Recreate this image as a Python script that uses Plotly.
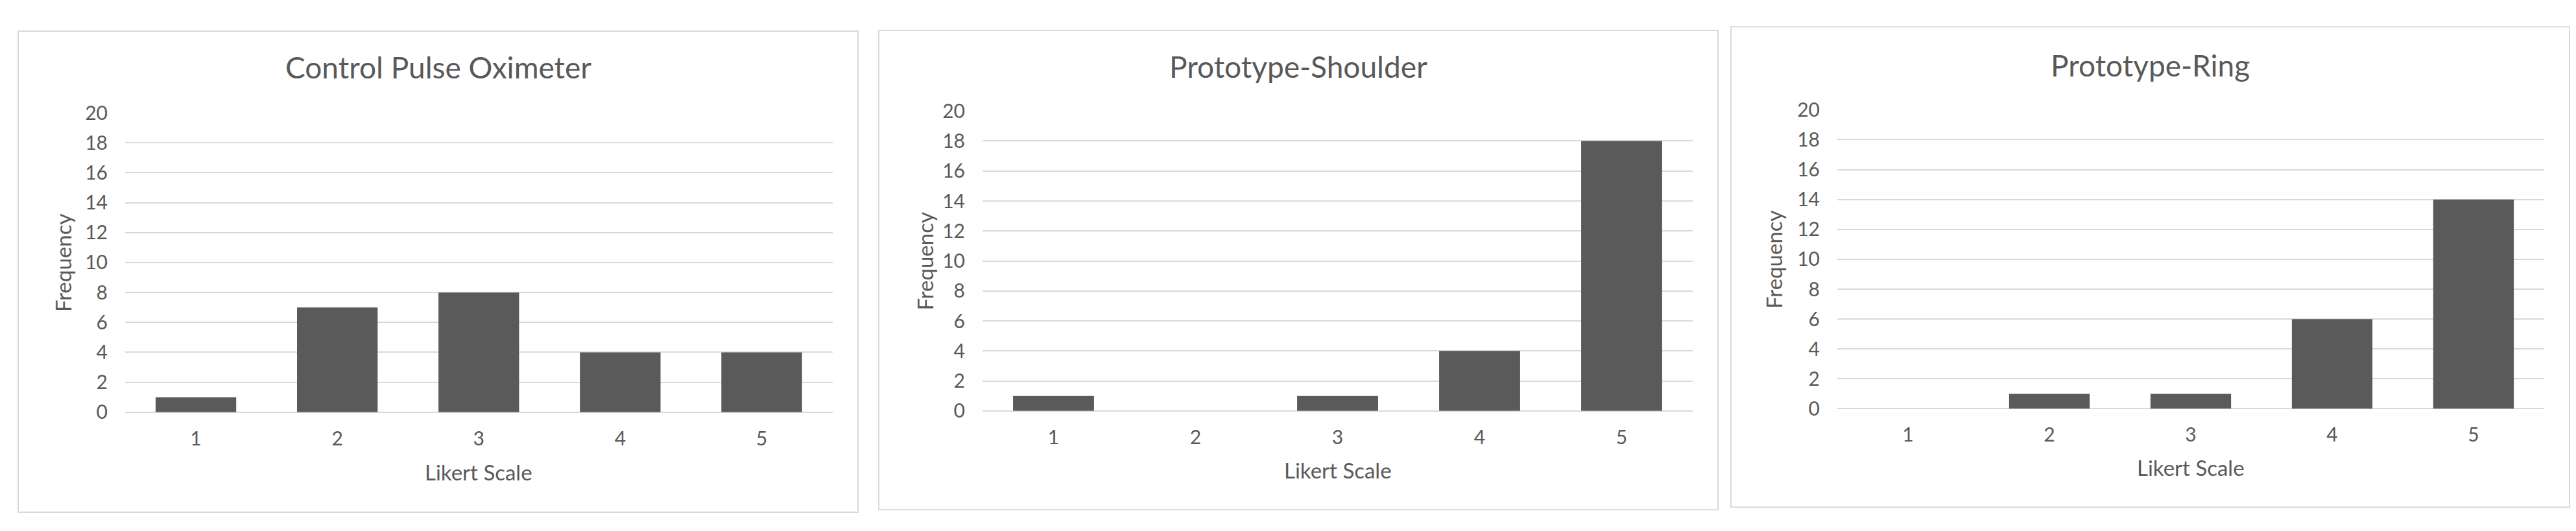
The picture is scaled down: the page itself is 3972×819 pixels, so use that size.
import plotly.graph_objects as go

# data
likert = [1, 2, 3, 4, 5]
control_freq = [1, 7, 8, 4, 4]
shoulder_freq = [1, 0, 1, 4, 18]
ring_freq = [0, 1, 1, 6, 14]
titles = ["Control Pulse Oximeter", "Prototype-Shoulder", "Prototype-Ring"]
y_ticks = list(range(0, 21, 2))

W, H = 3972, 819
FONT = "Lato"
TXT = "#595959"
GRID = "#d9d9d9"


def px(x):
    return x / W


def py(y):
    return 1 - y / H


# chart boxes (left, top, right, bottom) and plot areas (left, right, top, bottom) in pixels
boxes = [(20, 21, 1315, 798), (1347, 20, 2641, 794), (2661, 14, 3954, 790)]
areas = [(185, 1275.5, 153, 636.6), (1507, 2602, 150, 634.5), (2825, 3915, 148, 631)]
title_y = [79, 78, 76]
freq_x = [89, 1418, 2727]
likert_y = [733, 730, 726]

fig = go.Figure()
series = [control_freq, shoulder_freq, ring_freq]

for i, vals in enumerate(series):
    n = "" if i == 0 else str(i + 1)
    fig.add_trace(go.Bar(
        x=likert, y=vals,
        xaxis="x" + n, yaxis="y" + n,
        marker=dict(color="#5a5a5a", line=dict(width=0)),
        showlegend=False,
    ))
    l, r, t, b = areas[i]
    fig.layout["xaxis" + n] = dict(
        domain=[px(l), px(r)], anchor="y" + n,
        range=[0.5, 5.5], tickvals=likert, ticktext=[str(v) for v in likert],
        showgrid=False, zeroline=False, showline=False, ticks="",
        tickfont=dict(family=FONT, size=30, color=TXT),
        ticklabelstandoff=20, fixedrange=True,
    )
    fig.layout["yaxis" + n] = dict(
        domain=[py(b), py(t)], anchor="x" + n,
        range=[0, 20], tickvals=y_ticks,
        showgrid=True, gridcolor=GRID, gridwidth=2,
        zeroline=True, zerolinecolor=GRID, zerolinewidth=2,
        showline=False, ticks="",
        tickfont=dict(family=FONT, size=30, color=TXT),
        ticklabelstandoff=26, fixedrange=True,
    )

    bl, bt, br, bb = boxes[i]
    fig.add_shape(type="rect", xref="paper", yref="paper",
                  x0=px(bl), x1=px(br), y0=py(bb), y1=py(bt),
                  line=dict(color=GRID, width=2), fillcolor="rgba(0,0,0,0)", layer="below")

    fig.add_annotation(text=titles[i], xref="paper", yref="paper",
                       x=px((bl + br) / 2), y=py(title_y[i]),
                       xanchor="center", yanchor="middle", showarrow=False,
                       font=dict(family=FONT, size=46, color=TXT))
    fig.add_annotation(text="Frequency", xref="paper", yref="paper",
                       x=px(freq_x[i]), y=py((t + b) / 2), textangle=-90,
                       xanchor="center", yanchor="middle", showarrow=False,
                       font=dict(family=FONT, size=33, color=TXT))
    fig.add_annotation(text="Likert Scale", xref="paper", yref="paper",
                       x=px((l + r) / 2), y=py(likert_y[i]),
                       xanchor="center", yanchor="middle", showarrow=False,
                       font=dict(family=FONT, size=33, color=TXT))

fig.update_layout(
    width=W, height=H,
    margin=dict(l=0, r=0, t=0, b=0),
    paper_bgcolor="white", plot_bgcolor="white",
    bargap=0.43,
)

fig.write_html("out.html")
